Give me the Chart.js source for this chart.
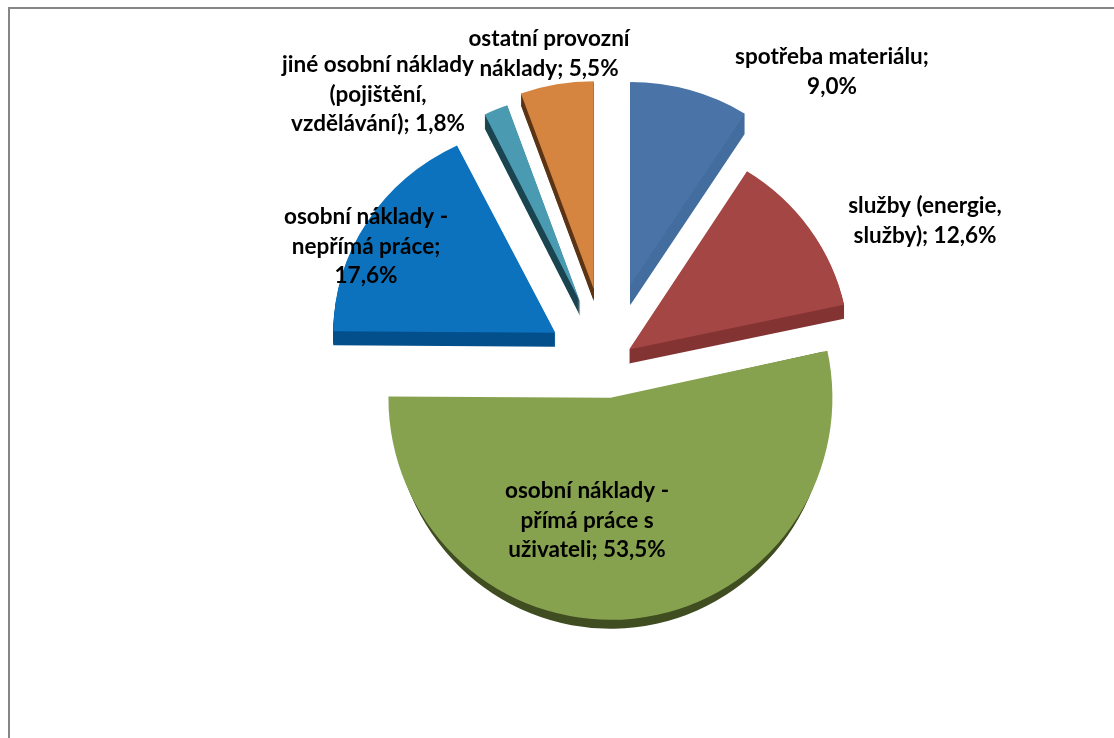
<!DOCTYPE html>
<html>
<head>
<meta charset="utf-8">
<title>Náklady</title>
<script src="https://cdn.jsdelivr.net/npm/chart.js@4"></script>
<style>
  html, body { margin: 0; padding: 0; background: #fff; overflow: hidden; }
  #frame { position: absolute; left: 8px; top: 7px; right: 0; bottom: 0; border-top: 2px solid #868686; border-left: 2px solid #868686; }
  #pie { position: absolute; left: 0; top: 0; }
</style>
</head>
<body>
<div id="frame"></div>
<canvas id="pie" width="1114" height="738"></canvas>
<script>
const categories = [
  'spotřeba materiálu',
  'služby (energie, služby)',
  'osobní náklady - přímá práce s uživateli',
  'osobní náklady - nepřímá práce',
  'jiné osobní náklady (pojištění, vzdělávání)',
  'ostatní provozní náklady'
];
const shares = [9.0, 12.6, 53.5, 17.6, 1.8, 5.5];

const faceColors = ['#4a74a7', '#a44644', '#87a24f', '#0d72bd', '#4a9bb1', '#d5853f'];
const sideColors = ['#436d9e', '#843333', '#3f4d20', '#024f8b', '#1b4451', '#5a3415'];

// how far each slice is pulled out, its radius, the tilt of its face and its visible thickness (px)
const explode = [83, 27, 33, 61, 68, 77];
const radii = [214, 220, 222, 222, 216, 215];
const squash = [0.95, 0.96, 1, 0.94, 0.97, 0.967];
const depth = [20, 14, 9, 14, 14, 12];
const sideWidth = [1, 1, 0.98, 1, 1, 1];

const labelLines = [
  ['spotřeba materiálu;', '9,0%'],
  ['služby (energie,', 'služby); 12,6%'],
  ['osobní náklady -', 'přímá práce s', 'uživateli; 53,5%'],
  ['osobní náklady -', 'nepřímá práce;', '17,6%'],
  ['jiné osobní náklady', '(pojištění,', 'vzdělávání); 1,8%'],
  ['ostatní provozní', 'náklady; 5,5%']
];
// centre of the first line of each label
const labelX = [832, 925, 587, 366, 378, 549];
const labelY = [57, 206, 491, 217, 65, 39];
const lineHeight = 29.5;

function tilt(ctx, arc, sx, sy) {
  ctx.translate(arc.x, arc.y);
  ctx.scale(sx, sy);
  ctx.translate(-arc.x, -arc.y);
}

const explodedPie = {
  id: 'explodedPie',
  afterDatasetsUpdate(chart) {
    chart.getDatasetMeta(0).data.forEach((arc, i) => {
      const mid = (arc.startAngle + arc.endAngle) / 2;
      arc.x += Math.cos(mid) * explode[i];
      arc.y += Math.sin(mid) * explode[i];
      arc.outerRadius = radii[i];
      const drawFace = arc.draw;
      arc.draw = function (ctx, area) {
        ctx.save();
        tilt(ctx, this, 1, squash[i]);
        drawFace.call(this, ctx, area);
        ctx.restore();
      };
    });
  },
  beforeDatasetsDraw(chart) {
    const ctx = chart.ctx;
    chart.getDatasetMeta(0).data.forEach((arc, i) => {
      ctx.fillStyle = sideColors[i];
      for (let k = 1; k <= depth[i]; k++) {
        ctx.save();
        ctx.translate(0, k);
        tilt(ctx, arc, sideWidth[i], squash[i]);
        ctx.beginPath();
        ctx.moveTo(arc.x, arc.y);
        ctx.arc(arc.x, arc.y, arc.outerRadius, arc.startAngle, arc.endAngle);
        ctx.closePath();
        ctx.fill();
        ctx.restore();
      }
    });
  },
  afterDraw(chart) {
    const ctx = chart.ctx;
    ctx.save();
    ctx.font = 'bold 22.5px Lato';
    ctx.fillStyle = '#000';
    ctx.textAlign = 'center';
    ctx.textBaseline = 'middle';
    labelLines.forEach((lines, i) => {
      lines.forEach((line, n) => {
        ctx.fillText(line, labelX[i], labelY[i] + n * lineHeight);
      });
    });
    ctx.restore();
  }
};

new Chart(document.getElementById('pie').getContext('2d'), {
  type: 'pie',
  data: {
    labels: categories,
    datasets: [{
      data: shares,
      backgroundColor: faceColors,
      borderWidth: 0,
      radius: 216
    }]
  },
  options: {
    responsive: false,
    animation: false,
    layout: { padding: { left: 100, right: 0, top: 0, bottom: 8 } },
    plugins: { legend: { display: false }, tooltip: { enabled: false } }
  },
  plugins: [explodedPie]
});
</script>
</body>
</html>
